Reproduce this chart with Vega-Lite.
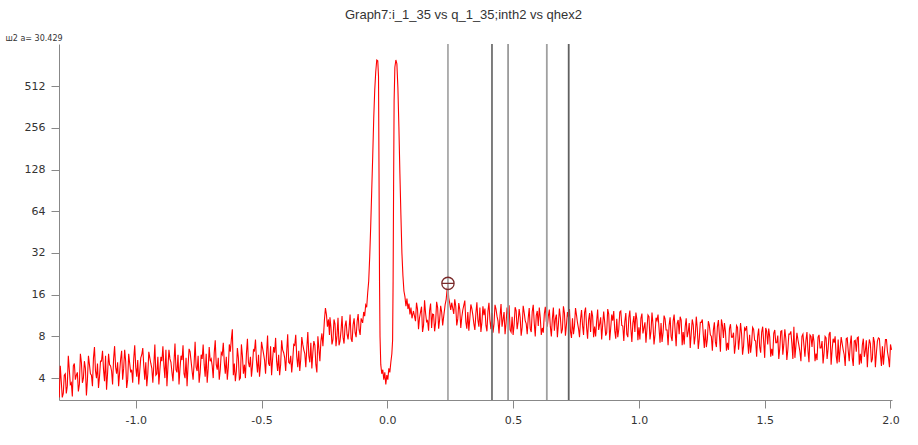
{
  "$schema": "https://vega.github.io/schema/vega-lite/v6.json",
  "width": 833,
  "height": 356,
  "autosize": {"type": "none"},
  "padding": {"left": 59, "top": 44, "right": 26, "bottom": 45},
  "background": "white",
  "title": {
    "text": "Graph7:i_1_35 vs q_1_35;inth2 vs qhex2",
    "anchor": "middle",
    "frame": "group",
    "dx": -12,
    "offset": 12,
    "font": "Liberation Sans",
    "fontSize": 13,
    "fontWeight": "normal",
    "color": "#333333"
  },
  "config": {
    "view": {"stroke": null},
    "axis": {
      "domainColor": "#888888",
      "tickColor": "#888888",
      "labelColor": "#333333",
      "labelFont": "DejaVu Sans",
      "labelFontSize": 11,
      "grid": false,
      "tickSize": 8,
      "labelPadding": 6
    }
  },
  "datasets": {
    "curve": [
      {"q":-1.304,"i":2.9},{"q":-1.296,"i":3.8},{"q":-1.288,"i":3.1},{"q":-1.280,"i":4.3},{"q":-1.272,"i":3.5},{"q":-1.264,"i":4.6},{"q":-1.256,"i":3.7},{"q":-1.248,"i":4.9},{"q":-1.240,"i":3.9},{"q":-1.232,"i":4.4},
      {"q":-1.224,"i":3.6},{"q":-1.216,"i":5.2},{"q":-1.208,"i":4.0},{"q":-1.200,"i":4.7},{"q":-1.192,"i":3.9},{"q":-1.184,"i":5.0},{"q":-1.176,"i":4.2},{"q":-1.168,"i":5.6},{"q":-1.160,"i":4.5},{"q":-1.152,"i":5.1},
      {"q":-1.144,"i":4.1},{"q":-1.136,"i":5.3},{"q":-1.128,"i":4.6},{"q":-1.120,"i":5.8},{"q":-1.112,"i":4.3},{"q":-1.104,"i":5.0},{"q":-1.096,"i":4.5},{"q":-1.088,"i":5.5},{"q":-1.080,"i":4.8},{"q":-1.072,"i":5.2},
      {"q":-1.064,"i":4.4},{"q":-1.056,"i":6.3},{"q":-1.048,"i":4.7},{"q":-1.040,"i":5.3},{"q":-1.032,"i":3.9},{"q":-1.024,"i":5.1},{"q":-1.016,"i":4.6},{"q":-1.008,"i":5.5},{"q":-1.000,"i":4.8},{"q":-0.992,"i":5.4},
      {"q":-0.984,"i":4.5},{"q":-0.976,"i":5.9},{"q":-0.968,"i":4.9},{"q":-0.960,"i":5.2},{"q":-0.952,"i":4.3},{"q":-0.944,"i":5.6},{"q":-0.936,"i":4.7},{"q":-0.928,"i":5.0},{"q":-0.920,"i":4.2},{"q":-0.912,"i":5.7},
      {"q":-0.904,"i":4.6},{"q":-0.896,"i":5.3},{"q":-0.888,"i":4.9},{"q":-0.880,"i":6.4},{"q":-0.872,"i":4.8},{"q":-0.864,"i":5.5},{"q":-0.856,"i":4.4},{"q":-0.848,"i":5.2},{"q":-0.840,"i":4.6},{"q":-0.832,"i":5.9},
      {"q":-0.824,"i":4.7},{"q":-0.816,"i":5.4},{"q":-0.808,"i":4.3},{"q":-0.800,"i":5.6},{"q":-0.792,"i":4.9},{"q":-0.784,"i":6.2},{"q":-0.776,"i":4.5},{"q":-0.768,"i":5.1},{"q":-0.760,"i":4.8},{"q":-0.752,"i":5.8},
      {"q":-0.744,"i":4.4},{"q":-0.736,"i":5.5},{"q":-0.728,"i":5.0},{"q":-0.720,"i":6.0},{"q":-0.712,"i":4.7},{"q":-0.704,"i":5.3},{"q":-0.696,"i":4.9},{"q":-0.688,"i":6.1},{"q":-0.680,"i":5.0},{"q":-0.672,"i":5.6},
      {"q":-0.664,"i":4.6},{"q":-0.656,"i":5.9},{"q":-0.648,"i":5.2},{"q":-0.640,"i":5.7},{"q":-0.632,"i":4.8},{"q":-0.624,"i":6.2},{"q":-0.616,"i":9.0},{"q":-0.608,"i":5.1},{"q":-0.600,"i":4.5},{"q":-0.592,"i":5.6},
      {"q":-0.584,"i":4.0},{"q":-0.576,"i":5.8},{"q":-0.568,"i":5.0},{"q":-0.560,"i":6.0},{"q":-0.552,"i":5.2},{"q":-0.544,"i":5.7},{"q":-0.536,"i":4.9},{"q":-0.528,"i":6.3},{"q":-0.520,"i":5.3},{"q":-0.512,"i":5.9},
      {"q":-0.504,"i":5.0},{"q":-0.496,"i":6.6},{"q":-0.488,"i":5.4},{"q":-0.480,"i":6.0},{"q":-0.472,"i":5.1},{"q":-0.464,"i":6.8},{"q":-0.456,"i":5.5},{"q":-0.448,"i":6.1},{"q":-0.440,"i":5.3},{"q":-0.432,"i":5.9},
      {"q":-0.424,"i":5.0},{"q":-0.416,"i":6.4},{"q":-0.408,"i":5.6},{"q":-0.400,"i":6.2},{"q":-0.392,"i":5.2},{"q":-0.384,"i":5.8},{"q":-0.376,"i":5.4},{"q":-0.368,"i":6.9},{"q":-0.360,"i":5.7},{"q":-0.352,"i":6.3},
      {"q":-0.344,"i":5.5},{"q":-0.336,"i":7.0},{"q":-0.328,"i":6.0},{"q":-0.320,"i":6.6},{"q":-0.312,"i":5.8},{"q":-0.304,"i":7.2},{"q":-0.296,"i":6.1},{"q":-0.288,"i":6.9},{"q":-0.280,"i":4.4},{"q":-0.272,"i":6.5},
      {"q":-0.264,"i":7.4},{"q":-0.256,"i":6.8},{"q":-0.250,"i":10.5},{"q":-0.246,"i":12.8},{"q":-0.242,"i":11.5},{"q":-0.238,"i":9.4},{"q":-0.234,"i":10.6},{"q":-0.230,"i":8.2},
      {"q":-0.224,"i":9.3},{"q":-0.216,"i":7.6},{"q":-0.208,"i":9.8},{"q":-0.200,"i":8.1},{"q":-0.192,"i":6.9},{"q":-0.184,"i":8.8},{"q":-0.176,"i":7.9},{"q":-0.168,"i":9.5},{"q":-0.160,"i":8.3},{"q":-0.152,"i":9.1},
      {"q":-0.144,"i":7.7},{"q":-0.136,"i":9.7},{"q":-0.128,"i":8.5},{"q":-0.120,"i":10.2},{"q":-0.112,"i":8.9},{"q":-0.104,"i":10.8},
      {"q":-0.098,"i":10.0},{"q":-0.094,"i":12.0},{"q":-0.090,"i":11.2},{"q":-0.086,"i":13.5},{"q":-0.082,"i":13.0},{"q":-0.078,"i":16.5},{"q":-0.074,"i":20},{"q":-0.070,"i":30},{"q":-0.066,"i":50},{"q":-0.062,"i":90},
      {"q":-0.058,"i":160},{"q":-0.054,"i":300},{"q":-0.050,"i":480},{"q":-0.046,"i":650},{"q":-0.042,"i":790},{"q":-0.038,"i":780},{"q":-0.035,"i":600},{"q":-0.033,"i":120},{"q":-0.031,"i":20},{"q":-0.029,"i":8},
      {"q":-0.026,"i":5.0},{"q":-0.022,"i":4.3},{"q":-0.018,"i":4.6},{"q":-0.014,"i":3.9},{"q":-0.010,"i":4.4},{"q":-0.006,"i":3.6},{"q":-0.002,"i":4.2},{"q":0.002,"i":3.9},{"q":0.006,"i":4.7},{"q":0.010,"i":4.4},
      {"q":0.014,"i":5.2},{"q":0.018,"i":6.0},{"q":0.021,"i":7.5},{"q":0.023,"i":20},{"q":0.025,"i":100},{"q":0.027,"i":400},{"q":0.030,"i":700},{"q":0.034,"i":790},{"q":0.038,"i":740},{"q":0.042,"i":500},
      {"q":0.046,"i":260},{"q":0.050,"i":120},{"q":0.054,"i":60},{"q":0.058,"i":32},{"q":0.062,"i":22},{"q":0.066,"i":17},{"q":0.070,"i":15.5},{"q":0.074,"i":13.2},{"q":0.078,"i":15.0},{"q":0.082,"i":12.6},
      {"q":0.086,"i":13.8},{"q":0.090,"i":11.5},{"q":0.094,"i":12.9},{"q":0.098,"i":10.8},{"q":0.104,"i":12.2},
      {"q":0.112,"i":10.3},{"q":0.120,"i":12.6},{"q":0.128,"i":10.9},{"q":0.136,"i":13.1},{"q":0.144,"i":9.6},{"q":0.152,"i":11.8},{"q":0.160,"i":10.4},{"q":0.168,"i":12.3},{"q":0.176,"i":9.2},{"q":0.184,"i":11.5},
      {"q":0.192,"i":10.1},{"q":0.200,"i":12.9},{"q":0.208,"i":10.6},{"q":0.216,"i":12.0},{"q":0.224,"i":11.1},{"q":0.230,"i":13.6},{"q":0.234,"i":14.8},{"q":0.238,"i":17.8},{"q":0.241,"i":18.6},{"q":0.244,"i":15.2},
      {"q":0.248,"i":13.9},{"q":0.252,"i":12.4},{"q":0.256,"i":14.0},{"q":0.264,"i":11.6},{"q":0.272,"i":13.2},{"q":0.280,"i":10.7},{"q":0.288,"i":12.5},{"q":0.296,"i":11.0},{"q":0.304,"i":13.4},{"q":0.312,"i":10.2},
      {"q":0.320,"i":12.0},{"q":0.328,"i":10.8},{"q":0.336,"i":12.7},{"q":0.344,"i":9.9},{"q":0.352,"i":11.7},{"q":0.360,"i":10.5},{"q":0.368,"i":12.9},{"q":0.376,"i":10.1},{"q":0.384,"i":11.4},{"q":0.392,"i":9.6},
      {"q":0.400,"i":12.2},{"q":0.408,"i":10.4},{"q":0.416,"i":11.8},{"q":0.424,"i":9.8},{"q":0.432,"i":12.6},{"q":0.440,"i":10.3},{"q":0.448,"i":11.2},{"q":0.456,"i":9.4},{"q":0.464,"i":12.0},{"q":0.472,"i":10.0},
      {"q":0.480,"i":11.5},{"q":0.488,"i":8.9},{"q":0.496,"i":11.1},{"q":0.504,"i":9.7},{"q":0.512,"i":12.3},{"q":0.520,"i":10.2},{"q":0.528,"i":11.0},{"q":0.536,"i":9.3},{"q":0.544,"i":11.9},{"q":0.552,"i":9.9},
      {"q":0.560,"i":10.8},{"q":0.568,"i":9.1},{"q":0.576,"i":12.1},{"q":0.584,"i":10.0},{"q":0.592,"i":11.3},{"q":0.600,"i":9.5},{"q":0.608,"i":10.9},{"q":0.616,"i":9.2},{"q":0.624,"i":11.6},{"q":0.632,"i":10.3},
      {"q":0.640,"i":11.2},{"q":0.648,"i":9.4},{"q":0.656,"i":10.7},{"q":0.664,"i":8.8},{"q":0.672,"i":11.5},{"q":0.680,"i":9.8},{"q":0.688,"i":10.9},{"q":0.696,"i":9.0},{"q":0.704,"i":11.8},{"q":0.712,"i":9.7},
      {"q":0.720,"i":11.0},{"q":0.728,"i":8.7},{"q":0.736,"i":10.8},{"q":0.744,"i":9.5},{"q":0.752,"i":11.4},{"q":0.760,"i":9.1},{"q":0.768,"i":10.6},{"q":0.776,"i":9.6},{"q":0.784,"i":11.9},{"q":0.792,"i":9.3},
      {"q":0.800,"i":10.5},{"q":0.808,"i":8.6},{"q":0.816,"i":11.2},{"q":0.824,"i":9.4},{"q":0.832,"i":10.3},{"q":0.840,"i":8.9},{"q":0.848,"i":11.0},{"q":0.856,"i":9.7},{"q":0.864,"i":10.1},{"q":0.872,"i":8.5},
      {"q":0.880,"i":11.6},{"q":0.888,"i":9.2},{"q":0.896,"i":10.4},{"q":0.904,"i":8.8},{"q":0.912,"i":10.7},{"q":0.920,"i":9.0},{"q":0.928,"i":12.2},{"q":0.936,"i":9.5},{"q":0.944,"i":10.2},{"q":0.952,"i":8.3},
      {"q":0.960,"i":10.9},{"q":0.968,"i":9.1},{"q":0.976,"i":10.0},{"q":0.984,"i":8.6},{"q":0.992,"i":10.6},{"q":1.000,"i":9.3},{"q":1.008,"i":10.8},{"q":1.016,"i":8.4},{"q":1.024,"i":10.1},{"q":1.032,"i":9.0},
      {"q":1.040,"i":11.1},{"q":1.048,"i":8.7},{"q":1.056,"i":9.8},{"q":1.064,"i":8.2},{"q":1.072,"i":10.4},{"q":1.080,"i":9.2},{"q":1.088,"i":10.0},{"q":1.096,"i":8.5},{"q":1.104,"i":10.7},{"q":1.112,"i":8.9},
      {"q":1.120,"i":9.6},{"q":1.128,"i":8.0},{"q":1.136,"i":10.3},{"q":1.144,"i":8.8},{"q":1.152,"i":9.9},{"q":1.160,"i":8.3},{"q":1.168,"i":10.5},{"q":1.176,"i":8.6},{"q":1.184,"i":9.4},{"q":1.192,"i":7.9},
      {"q":1.200,"i":10.0},{"q":1.208,"i":8.4},{"q":1.216,"i":9.7},{"q":1.224,"i":8.1},{"q":1.232,"i":9.2},{"q":1.240,"i":7.7},{"q":1.248,"i":10.1},{"q":1.256,"i":8.2},{"q":1.264,"i":9.0},{"q":1.272,"i":7.6},
      {"q":1.280,"i":9.6},{"q":1.288,"i":8.0},{"q":1.296,"i":8.9},{"q":1.304,"i":7.3},{"q":1.312,"i":9.4},{"q":1.320,"i":8.1},{"q":1.328,"i":10.6},{"q":1.336,"i":7.8},{"q":1.344,"i":8.7},{"q":1.352,"i":7.2},
      {"q":1.360,"i":9.1},{"q":1.368,"i":7.9},{"q":1.376,"i":8.5},{"q":1.384,"i":7.0},{"q":1.392,"i":9.3},{"q":1.400,"i":7.7},{"q":1.408,"i":8.4},{"q":1.416,"i":6.8},{"q":1.424,"i":8.9},{"q":1.432,"i":7.5},
      {"q":1.440,"i":8.2},{"q":1.448,"i":7.1},{"q":1.456,"i":9.0},{"q":1.464,"i":7.4},{"q":1.472,"i":8.0},{"q":1.480,"i":6.7},{"q":1.488,"i":8.6},{"q":1.496,"i":7.3},{"q":1.504,"i":9.2},{"q":1.512,"i":7.0},
      {"q":1.520,"i":7.9},{"q":1.528,"i":6.5},{"q":1.536,"i":8.4},{"q":1.544,"i":7.2},{"q":1.552,"i":8.1},{"q":1.560,"i":6.6},{"q":1.568,"i":8.8},{"q":1.576,"i":7.0},{"q":1.584,"i":7.7},{"q":1.592,"i":6.4},
      {"q":1.600,"i":8.3},{"q":1.608,"i":7.1},{"q":1.616,"i":9.4},{"q":1.624,"i":6.8},{"q":1.632,"i":7.6},{"q":1.640,"i":6.2},{"q":1.648,"i":8.0},{"q":1.656,"i":6.9},{"q":1.664,"i":7.5},{"q":1.672,"i":6.3},
      {"q":1.680,"i":8.2},{"q":1.688,"i":6.7},{"q":1.696,"i":7.3},{"q":1.704,"i":6.0},{"q":1.712,"i":7.9},{"q":1.720,"i":6.6},{"q":1.728,"i":7.4},{"q":1.736,"i":6.1},{"q":1.744,"i":7.8},{"q":1.752,"i":6.5},
      {"q":1.760,"i":8.6},{"q":1.768,"i":6.4},{"q":1.776,"i":7.2},{"q":1.784,"i":5.8},{"q":1.792,"i":7.6},{"q":1.800,"i":6.5},{"q":1.808,"i":7.1},{"q":1.816,"i":5.9},{"q":1.824,"i":7.7},{"q":1.832,"i":6.3},
      {"q":1.840,"i":7.0},{"q":1.848,"i":5.6},{"q":1.856,"i":7.4},{"q":1.864,"i":6.2},{"q":1.872,"i":7.9},{"q":1.880,"i":6.0},{"q":1.888,"i":6.9},{"q":1.896,"i":5.7},{"q":1.904,"i":7.5},{"q":1.912,"i":6.4},
      {"q":1.920,"i":7.1},{"q":1.928,"i":5.5},{"q":1.936,"i":7.3},{"q":1.944,"i":6.1},{"q":1.952,"i":7.8},{"q":1.960,"i":5.9},{"q":1.968,"i":6.8},{"q":1.976,"i":6.2},{"q":1.984,"i":7.6},{"q":1.992,"i":5.6},
      {"q":2.000,"i":7.0},{"q":2.004,"i":6.4},
      {"q":-1.300,"i":4.9},{"q":-1.292,"i":2.9},{"q":-1.284,"i":4.2},{"q":-1.276,"i":3.1},{"q":-1.268,"i":5.8},{"q":-1.260,"i":3.6},{"q":-1.252,"i":2.95},{"q":-1.244,"i":5.1},{"q":-1.236,"i":4.2},{"q":-1.228,"i":3.2},
      {"q":-1.220,"i":6.0},{"q":-1.212,"i":3.7},{"q":-1.204,"i":5.3},{"q":-1.196,"i":3.0},{"q":-1.188,"i":5.8},{"q":-1.180,"i":4.3},{"q":-1.172,"i":3.5},{"q":-1.164,"i":6.7},{"q":-1.156,"i":4.0},{"q":-1.148,"i":3.4},
      {"q":-1.140,"i":5.3},{"q":-1.132,"i":6.3},{"q":-1.124,"i":3.8},{"q":-1.116,"i":3.3},{"q":-1.108,"i":6.0},{"q":-1.100,"i":4.9},{"q":-1.092,"i":3.6},{"q":-1.084,"i":6.8},{"q":-1.076,"i":4.3},{"q":-1.068,"i":3.5},
      {"q":-1.060,"i":5.5},{"q":-1.052,"i":3.9},{"q":-1.044,"i":6.4},{"q":-1.036,"i":3.4},{"q":-1.028,"i":6.0},{"q":-1.020,"i":4.4},{"q":-1.012,"i":3.7},{"q":-1.004,"i":6.9},{"q":-0.996,"i":4.1},{"q":-0.988,"i":3.6},
      {"q":-0.980,"i":5.6},{"q":-0.972,"i":6.6},{"q":-0.964,"i":3.9},{"q":-0.956,"i":3.5},{"q":-0.948,"i":6.2},{"q":-0.940,"i":5.1},{"q":-0.932,"i":3.7},{"q":-0.924,"i":7.0},{"q":-0.916,"i":4.3},{"q":-0.908,"i":3.6},
      {"q":-0.900,"i":5.7},{"q":-0.892,"i":6.8},{"q":-0.884,"i":4.0},{"q":-0.876,"i":3.5},{"q":-0.868,"i":6.4},{"q":-0.860,"i":5.2},{"q":-0.852,"i":3.8},{"q":-0.844,"i":7.1},{"q":-0.836,"i":4.4},{"q":-0.828,"i":3.6},
      {"q":-0.820,"i":5.8},{"q":-0.812,"i":6.9},{"q":-0.804,"i":4.0},{"q":-0.796,"i":3.5},{"q":-0.788,"i":6.5},{"q":-0.780,"i":5.3},{"q":-0.772,"i":3.9},{"q":-0.764,"i":7.3},{"q":-0.756,"i":4.5},{"q":-0.748,"i":3.7},
      {"q":-0.740,"i":5.9},{"q":-0.732,"i":7.0},{"q":-0.724,"i":4.1},{"q":-0.716,"i":3.7},{"q":-0.708,"i":6.7},{"q":-0.700,"i":5.5},{"q":-0.692,"i":4.0},{"q":-0.684,"i":7.5},{"q":-0.676,"i":4.6},{"q":-0.668,"i":3.9},
      {"q":-0.660,"i":6.1},{"q":-0.652,"i":7.2},{"q":-0.644,"i":4.3},{"q":-0.636,"i":3.9},{"q":-0.628,"i":7.0},{"q":-0.620,"i":7.6},{"q":-0.612,"i":4.2},{"q":-0.604,"i":3.8},{"q":-0.596,"i":6.6},{"q":-0.588,"i":3.9},
      {"q":-0.580,"i":7.0},{"q":-0.572,"i":4.3},{"q":-0.564,"i":4.0},{"q":-0.556,"i":7.7},{"q":-0.548,"i":4.8},{"q":-0.540,"i":4.1},{"q":-0.532,"i":6.4},{"q":-0.524,"i":7.6},{"q":-0.516,"i":4.4},{"q":-0.508,"i":4.1},
      {"q":-0.500,"i":7.3},{"q":-0.492,"i":6.0},{"q":-0.484,"i":4.3},{"q":-0.476,"i":8.1},{"q":-0.468,"i":4.9},{"q":-0.460,"i":4.2},{"q":-0.452,"i":6.7},{"q":-0.444,"i":7.8},{"q":-0.436,"i":4.5},{"q":-0.428,"i":4.2},
      {"q":-0.420,"i":7.5},{"q":-0.412,"i":6.1},{"q":-0.404,"i":4.5},{"q":-0.396,"i":8.3},{"q":-0.388,"i":5.1},{"q":-0.380,"i":4.4},{"q":-0.372,"i":7.0},{"q":-0.364,"i":8.2},{"q":-0.356,"i":4.8},{"q":-0.348,"i":4.5},
      {"q":-0.340,"i":7.9},{"q":-0.332,"i":6.4},{"q":-0.324,"i":4.8},{"q":-0.316,"i":8.6},{"q":-0.308,"i":5.2},{"q":-0.300,"i":4.7},{"q":-0.292,"i":7.4},{"q":-0.284,"i":5.0},{"q":-0.276,"i":8.0},{"q":-0.268,"i":5.3},
      {"q":-0.260,"i":8.4},
      {"q":-0.228,"i":11.0},{"q":-0.220,"i":7.0},{"q":-0.212,"i":10.6},{"q":-0.204,"i":6.8},{"q":-0.196,"i":10.9},{"q":-0.188,"i":7.4},{"q":-0.180,"i":11.2},{"q":-0.172,"i":7.1},{"q":-0.164,"i":10.4},{"q":-0.156,"i":7.6},
      {"q":-0.148,"i":11.5},{"q":-0.140,"i":7.3},{"q":-0.132,"i":10.8},{"q":-0.124,"i":7.9},{"q":-0.116,"i":11.6},{"q":-0.108,"i":8.2},
      {"q":0.116,"i":14.0},{"q":0.124,"i":9.0},{"q":0.132,"i":12.0},{"q":0.140,"i":8.6},{"q":0.148,"i":14.6},{"q":0.156,"i":10.2},{"q":0.164,"i":8.8},{"q":0.172,"i":13.8},{"q":0.180,"i":11.6},{"q":0.188,"i":8.7},
      {"q":0.196,"i":14.2},{"q":0.204,"i":9.1},{"q":0.212,"i":13.3},{"q":0.220,"i":9.6},
      {"q":0.268,"i":14.8},{"q":0.276,"i":9.6},{"q":0.284,"i":13.9},{"q":0.292,"i":9.2},{"q":0.300,"i":12.4},{"q":0.308,"i":14.5},{"q":0.316,"i":9.1},{"q":0.324,"i":8.8},{"q":0.332,"i":13.6},{"q":0.340,"i":11.4},
      {"q":0.348,"i":8.9},{"q":0.356,"i":14.1},{"q":0.364,"i":9.4},{"q":0.372,"i":8.6},{"q":0.380,"i":13.2},{"q":0.388,"i":12.7},{"q":0.396,"i":8.7},{"q":0.404,"i":14.0},{"q":0.412,"i":9.0},{"q":0.420,"i":8.5},
      {"q":0.428,"i":13.5},{"q":0.436,"i":11.2},{"q":0.444,"i":8.4},{"q":0.452,"i":13.7},{"q":0.460,"i":10.6},{"q":0.468,"i":8.3},{"q":0.476,"i":12.9},{"q":0.484,"i":13.4},{"q":0.492,"i":8.6},{"q":0.500,"i":8.2},
      {"q":0.508,"i":13.0},{"q":0.516,"i":9.0},{"q":0.524,"i":12.6},{"q":0.532,"i":8.1},{"q":0.540,"i":13.3},{"q":0.548,"i":10.4},{"q":0.556,"i":8.3},{"q":0.564,"i":12.8},{"q":0.572,"i":8.6},{"q":0.580,"i":13.5},
      {"q":0.588,"i":8.0},{"q":0.596,"i":12.2},{"q":0.604,"i":12.9},{"q":0.612,"i":8.2},{"q":0.620,"i":8.5},{"q":0.628,"i":13.1},{"q":0.636,"i":9.4},{"q":0.644,"i":12.5},{"q":0.652,"i":8.0},{"q":0.660,"i":12.9},
      {"q":0.668,"i":10.7},{"q":0.676,"i":7.9},{"q":0.684,"i":12.7},{"q":0.692,"i":8.4},{"q":0.700,"i":13.2},{"q":0.708,"i":8.1},{"q":0.716,"i":12.0},{"q":0.724,"i":12.6},{"q":0.732,"i":7.8},{"q":0.740,"i":8.3},
      {"q":0.748,"i":12.8},{"q":0.756,"i":10.0},{"q":0.764,"i":7.9},{"q":0.772,"i":12.4},{"q":0.780,"i":8.2},{"q":0.788,"i":12.9},{"q":0.796,"i":7.7},{"q":0.804,"i":11.8},{"q":0.812,"i":12.3},{"q":0.820,"i":7.9},
      {"q":0.828,"i":8.0},{"q":0.836,"i":12.5},{"q":0.844,"i":9.8},{"q":0.852,"i":7.6},{"q":0.860,"i":12.1},{"q":0.868,"i":8.1},{"q":0.876,"i":12.6},{"q":0.884,"i":7.5},{"q":0.892,"i":11.5},{"q":0.900,"i":12.2},
      {"q":0.908,"i":7.7},{"q":0.916,"i":7.9},{"q":0.924,"i":12.0},{"q":0.932,"i":9.6},{"q":0.940,"i":7.4},{"q":0.948,"i":11.8},{"q":0.956,"i":7.9},{"q":0.964,"i":12.3},{"q":0.972,"i":7.3},{"q":0.980,"i":11.2},
      {"q":0.988,"i":11.9},{"q":0.996,"i":7.5},{"q":1.004,"i":7.6},{"q":1.012,"i":11.7},{"q":1.020,"i":9.2},{"q":1.028,"i":7.2},{"q":1.036,"i":11.4},{"q":1.044,"i":7.6},{"q":1.052,"i":11.9},{"q":1.060,"i":7.0},
      {"q":1.068,"i":10.9},{"q":1.076,"i":11.5},{"q":1.084,"i":7.2},{"q":1.092,"i":7.3},{"q":1.100,"i":11.3},{"q":1.108,"i":8.9},{"q":1.116,"i":6.9},{"q":1.124,"i":11.0},{"q":1.132,"i":7.4},{"q":1.140,"i":11.5},
      {"q":1.148,"i":6.8},{"q":1.156,"i":10.5},{"q":1.164,"i":11.1},{"q":1.172,"i":6.9},{"q":1.180,"i":7.0},{"q":1.188,"i":10.8},{"q":1.196,"i":8.6},{"q":1.204,"i":6.6},{"q":1.212,"i":10.6},{"q":1.220,"i":7.0},
      {"q":1.228,"i":11.1},{"q":1.236,"i":6.5},{"q":1.244,"i":10.1},{"q":1.252,"i":10.6},{"q":1.260,"i":6.6},{"q":1.268,"i":6.7},{"q":1.276,"i":10.3},{"q":1.284,"i":8.2},{"q":1.292,"i":6.3},{"q":1.300,"i":10.1},
      {"q":1.308,"i":6.7},{"q":1.316,"i":10.5},{"q":1.324,"i":6.2},{"q":1.332,"i":9.6},{"q":1.340,"i":10.0},{"q":1.348,"i":6.3},{"q":1.356,"i":6.4},{"q":1.364,"i":9.8},{"q":1.372,"i":7.9},{"q":1.380,"i":6.0},
      {"q":1.388,"i":9.6},{"q":1.396,"i":6.4},{"q":1.404,"i":10.0},{"q":1.412,"i":5.9},{"q":1.420,"i":9.2},{"q":1.428,"i":9.5},{"q":1.436,"i":6.0},{"q":1.444,"i":6.1},{"q":1.452,"i":9.3},{"q":1.460,"i":7.5},
      {"q":1.468,"i":5.7},{"q":1.476,"i":9.1},{"q":1.484,"i":6.1},{"q":1.492,"i":9.4},{"q":1.500,"i":5.6},{"q":1.508,"i":8.7},{"q":1.516,"i":9.1},{"q":1.524,"i":5.7},{"q":1.532,"i":5.8},{"q":1.540,"i":8.9},
      {"q":1.548,"i":7.2},{"q":1.556,"i":5.5},{"q":1.564,"i":8.7},{"q":1.572,"i":5.9},{"q":1.580,"i":9.0},{"q":1.588,"i":5.4},{"q":1.596,"i":8.3},{"q":1.604,"i":8.7},{"q":1.612,"i":5.5},{"q":1.620,"i":5.6},
      {"q":1.628,"i":8.5},{"q":1.636,"i":6.9},{"q":1.644,"i":5.3},{"q":1.652,"i":8.3},{"q":1.660,"i":5.7},{"q":1.668,"i":8.6},{"q":1.676,"i":5.2},{"q":1.684,"i":8.0},{"q":1.692,"i":8.3},{"q":1.700,"i":5.3},
      {"q":1.708,"i":5.4},{"q":1.716,"i":8.2},{"q":1.724,"i":6.6},{"q":1.732,"i":5.1},{"q":1.740,"i":8.0},{"q":1.748,"i":5.5},{"q":1.756,"i":8.3},{"q":1.764,"i":5.0},{"q":1.772,"i":7.7},{"q":1.780,"i":8.0},
      {"q":1.788,"i":5.1},{"q":1.796,"i":5.2},{"q":1.804,"i":7.9},{"q":1.812,"i":6.4},{"q":1.820,"i":4.9},{"q":1.828,"i":7.8},{"q":1.836,"i":5.3},{"q":1.844,"i":8.1},{"q":1.852,"i":4.9},{"q":1.860,"i":7.5},
      {"q":1.868,"i":7.8},{"q":1.876,"i":5.0},{"q":1.884,"i":5.1},{"q":1.892,"i":7.7},{"q":1.900,"i":6.3},{"q":1.908,"i":4.8},{"q":1.916,"i":7.6},{"q":1.924,"i":5.2},{"q":1.932,"i":7.9},{"q":1.940,"i":4.8},
      {"q":1.948,"i":7.4},{"q":1.956,"i":7.7},{"q":1.964,"i":4.9},{"q":1.972,"i":5.0},{"q":1.980,"i":7.6},{"q":1.988,"i":6.2},{"q":1.996,"i":4.8}
    ],
    "hexLines": [
      {"name": "q1", "q": 0.241},
      {"name": "sqrt3", "q": 0.416},
      {"name": "two", "q": 0.480},
      {"name": "sqrt7", "q": 0.634},
      {"name": "three", "q": 0.721}
    ],
    "cursor": [
      {"q": 0.241, "i": 19.3}
    ]
  },
  "layer": [
    {
      "data": {"name": "curve"},
      "mark": {"type": "line", "color": "#ff0000", "strokeWidth": 1.1, "clip": true},
      "encoding": {
        "x": {
          "field": "q", "type": "quantitative",
          "scale": {"domain": [-1.305, 2.006], "nice": false, "zero": false},
          "axis": {
            "values": [-1, -0.5, 0, 0.5, 1, 1.5, 2],
            "labelExpr": "datum.value < 0 ? '-' + format(-datum.value, '.1f') : format(datum.value, '.1f')",
            "title": null
          }
        },
        "y": {
          "field": "i", "type": "quantitative",
          "scale": {"type": "log", "base": 2, "domain": [2.78, 1030], "nice": false},
          "axis": {
            "values": [4, 8, 16, 32, 64, 128, 256, 512],
            "format": "d",
            "title": "ш2 a=  30.429",
            "titleAngle": 0,
            "titleX": -54,
            "titleY": -6,
            "titleAlign": "left",
            "titleBaseline": "middle",
            "titleFont": "DejaVu Sans",
            "titleFontSize": 8,
            "titleFontWeight": "normal",
            "titleColor": "#333333"
          }
        }
      }
    },
    {
      "data": {"name": "hexLines"},
      "mark": {"type": "rule", "strokeWidth": 1.8},
      "encoding": {
        "x": {"field": "q", "type": "quantitative"},
        "color": {
          "field": "name", "type": "nominal", "legend": null,
          "scale": {"domain": ["q1", "sqrt3", "two", "sqrt7", "three"], "range": ["#a8a8a8", "#707070", "#9a9a9a", "#a0a0a0", "#606060"]}
        }
      }
    },
    {
      "data": {"name": "cursor"},
      "mark": {"type": "point", "shape": "M-1,0A1,1 0 1,1 1,0A1,1 0 1,1 -1,0M-1,0L1,0", "filled": false, "size": 150, "stroke": "#7a2a2a", "strokeWidth": 1.3, "opacity": 1},
      "encoding": {
        "x": {"field": "q", "type": "quantitative"},
        "y": {"field": "i", "type": "quantitative"}
      }
    }
  ]
}
